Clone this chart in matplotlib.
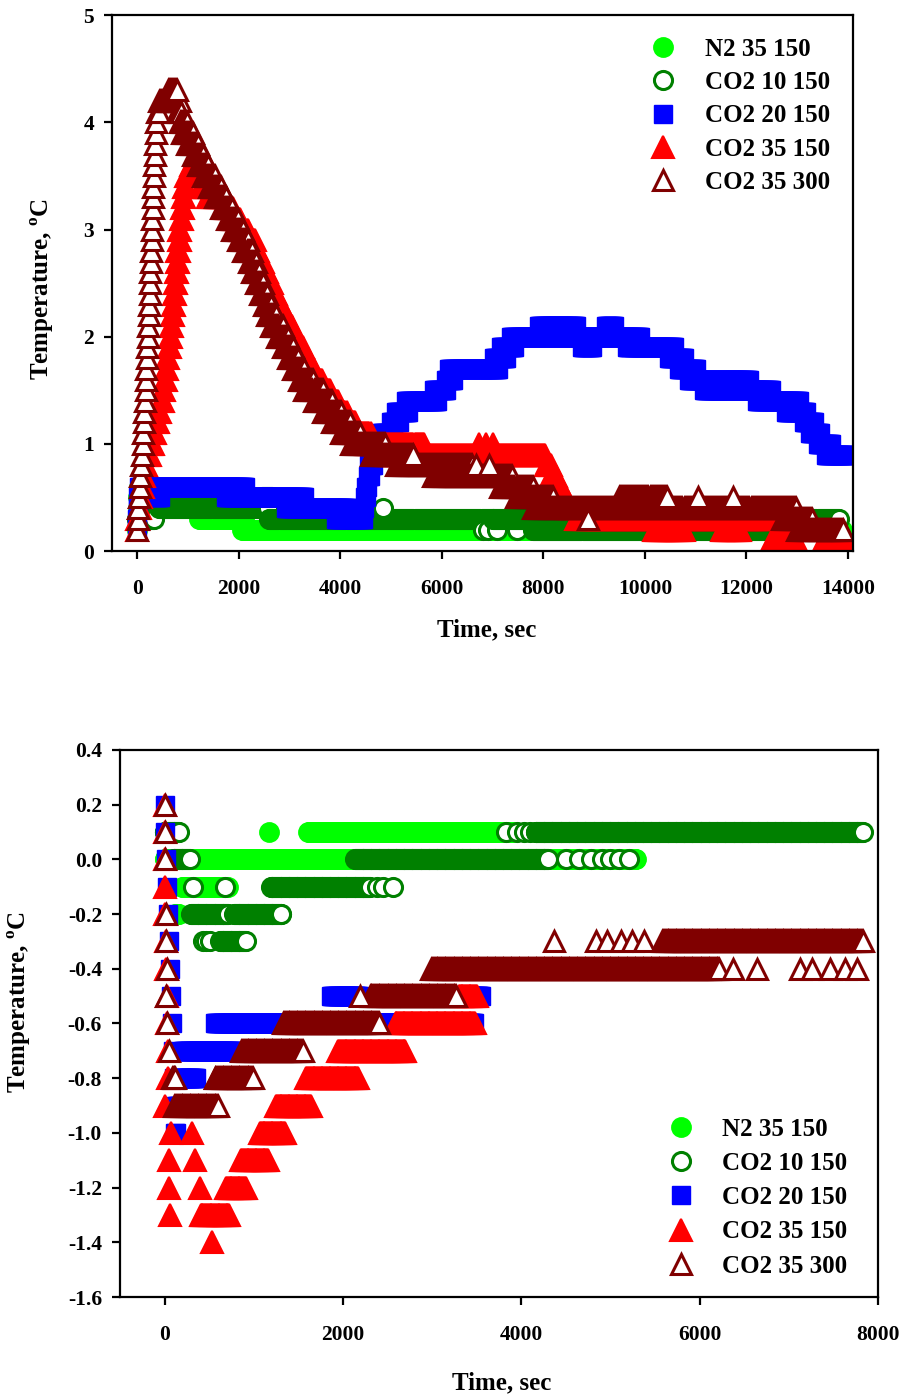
import numpy as np
import matplotlib
matplotlib.use('Agg')
import matplotlib.pyplot as plt
from matplotlib.lines import Line2D

plt.rcParams['font.family'] = ['Liberation Serif', 'DejaVu Serif']
plt.rcParams['font.weight'] = 'bold'
plt.rcParams['axes.unicode_minus'] = False
plt.rcParams['mathtext.fontset'] = 'custom'
plt.rcParams['mathtext.rm'] = 'Liberation Serif'
plt.rcParams['mathtext.bf'] = 'Liberation Serif:bold'

labels = ['N2 35 150', 'CO2 10 150', 'CO2 20 150', 'CO2 35 150', 'CO2 35 300']

# each run: (temperature, first time, last time) -- logger steps of 0.1 C
# ---------------- upper panel ----------------
top_n2 = [
    (0.2, 0, 0), (0.3, 0, 0), (0.4, 10, 10), (0.5, 20, 20), (0.6, 30, 30),
    (0.5, 40, 160), (0.4, 100, 1250), (0.3, 1220, 2100), (0.2, 2070, 13900)]

top_co2_10 = [
    (0.3, 0, 315), (0.4, 420, 2580), (0.5, 2450, 2650), (0.3, 2600, 7000),
    (0.2, 6810, 6810), (0.2, 6900, 6900), (0.2, 7090, 7090), (0.2, 7480, 7480),
    (0.2, 7790, 13800), (0.3, 7000, 13830), (0.4, 4840, 4840)]

top_co2_20 = [
    (0.2, 0, 0), (0.3, 0, 0), (0.4, 10, 10), (0.5, 20, 20), (0.6, 30, 2130),
    (0.5, 350, 450), (0.5, 1750, 3290), (0.4, 2930, 4150), (0.3, 3920, 4450),
    (0.4, 4460, 4470), (0.5, 4480, 4500), (0.6, 4510, 4530), (0.7, 4540, 4580),
    (0.8, 4570, 4650), (0.9, 4630, 4750), (1.0, 4700, 4900), (1.1, 4800, 5050),
    (1.2, 4995, 5160), (1.3, 5094, 5330), (1.4, 5290, 5920), (1.5, 5848, 6085),
    (1.6, 6078, 6216), (1.7, 6143, 7100), (1.8, 7029, 7266), (1.9, 7160, 7430),
    (2.0, 7358, 9889), (2.1, 7915, 8644), (1.9, 8760, 8970), (2.1, 9230, 9398),
    (1.9, 9655, 10580), (1.8, 10475, 10777), (1.7, 10672, 11007),
    (1.6, 10870, 12056), (1.5, 11164, 12484), (1.4, 12214, 13041),
    (1.3, 12773, 13172), (1.2, 13134, 13336), (1.1, 13250, 13450),
    (1.0, 13400, 13665), (0.9, 13560, 14000)]

top_co2_35_150 = [
    (0.2, 0, 0), (0.3, 0, 30), (0.4, 30, 60), (0.5, 60, 90), (0.6, 90, 120),
    (0.7, 120, 150), (0.8, 150, 180), (0.9, 180, 250), (1.0, 250, 315),
    (1.1, 315, 365), (1.2, 365, 415), (1.3, 415, 465), (1.4, 465, 510),
    (1.5, 510, 540), (1.6, 540, 565), (1.7, 565, 590), (1.8, 590, 620),
    (1.9, 620, 645), (2.0, 645, 670), (2.1, 670, 690), (2.2, 690, 705),
    (2.3, 705, 720), (2.4, 720, 740), (2.5, 740, 755), (2.6, 755, 775),
    (2.7, 775, 790), (2.8, 790, 810), (2.9, 810, 827), (3.0, 827, 850),
    (3.1, 850, 875), (3.2, 875, 900), (3.3, 900, 925), (3.4, 925, 960),
    (3.5, 960, 1260), (3.6, 1050, 1100), (3.4, 1250, 1550), (3.3, 1400, 1750),
    (3.2, 1750, 1890), (3.1, 1890, 2030), (3.0, 2030, 2170), (2.9, 2170, 2304),
    (2.8, 2304, 2390), (2.7, 2390, 2480), (2.6, 2480, 2570), (2.5, 2570, 2660),
    (2.4, 2660, 2750), (2.3, 2750, 2835), (2.2, 2835, 2945), (2.1, 2945, 3050),
    (2.0, 3050, 3160), (1.9, 3160, 3270), (1.8, 3270, 3380), (1.7, 3380, 3485),
    (1.6, 3485, 3640), (1.5, 3640, 3800), (1.4, 3800, 3960), (1.3, 3960, 4120),
    (1.2, 4120, 4273), (1.1, 4273, 4600), (1.0, 4500, 5650), (0.9, 4900, 8050),
    (1.0, 6730, 6730), (1.0, 6870, 6870), (1.0, 7010, 7010),
    (0.8, 8050, 8150), (0.7, 8150, 8250), (0.6, 8250, 8350), (0.5, 8350, 8450),
    (0.4, 8450, 8700), (0.3, 8650, 12480), (0.2, 10180, 10770),
    (0.2, 11520, 11890), (0.1, 12500, 12975), (0.1, 13530, 14000)]

top_co2_35_300 = [
    (0.2, 0, 0), (0.3, 10, 10), (0.4, 20, 20), (0.5, 30, 30), (0.6, 45, 45),
    (0.7, 60, 60), (0.8, 75, 75), (0.9, 95, 95), (1.0, 110, 110),
    (1.1, 120, 120), (1.2, 130, 130), (1.3, 140, 140), (1.4, 150, 150),
    (1.5, 160, 160), (1.6, 165, 165), (1.7, 175, 175), (1.8, 185, 185),
    (1.9, 195, 195), (2.0, 205, 205), (2.1, 215, 215), (2.2, 225, 225),
    (2.3, 235, 235), (2.4, 240, 240), (2.5, 250, 250), (2.6, 256, 256),
    (2.7, 265, 265), (2.8, 270, 270), (2.9, 280, 280), (3.0, 285, 285),
    (3.1, 290, 290), (3.2, 300, 300), (3.3, 305, 305), (3.4, 310, 310),
    (3.5, 320, 320), (3.6, 330, 330), (3.7, 340, 340), (3.8, 350, 350),
    (3.9, 360, 360), (4.0, 375, 375), (4.1, 390, 430), (4.2, 430, 830),
    (4.3, 600, 780),
    (4.1, 780, 870), (4.0, 830, 980), (3.9, 870, 1090), (3.8, 980, 1200),
    (3.7, 1090, 1300), (3.6, 1200, 1410), (3.5, 1300, 1530), (3.4, 1410, 1650),
    (3.3, 1530, 1760), (3.2, 1650, 1870), (3.1, 1760, 1980), (3.0, 1870, 2090),
    (2.9, 1980, 2190), (2.8, 2090, 2260), (2.7, 2190, 2340), (2.6, 2260, 2410),
    (2.5, 2340, 2490), (2.4, 2410, 2560), (2.3, 2490, 2640), (2.2, 2560, 2750),
    (2.1, 2640, 2860), (2.0, 2750, 2970), (1.9, 2860, 3070), (1.8, 2970, 3180),
    (1.7, 3070, 3290), (1.6, 3180, 3470), (1.5, 3290, 3650), (1.4, 3470, 3830),
    (1.3, 3650, 4010), (1.2, 3830, 4200), (1.1, 4010, 4400), (1.0, 4200, 4880),
    (0.9, 4600, 5435), (0.8, 5100, 6600), (0.7, 5830, 7400), (0.6, 7150, 7800),
    (0.5, 7450, 8200), (0.4, 7800, 12990), (0.5, 9490, 10430),
    (0.3, 12700, 13310), (0.2, 13000, 13900),
    (0.9, 5435, 5435), (0.8, 6670, 6670), (0.8, 6930, 6930), (0.3, 8880, 8880),
    (0.5, 11050, 11050), (0.5, 11740, 11740), (0.2, 13900, 13900)]

# ---------------- lower panel ----------------
bot_n2 = [
    (0.1, 0, 40), (0.0, 0, 5290), (-0.1, 200, 710), (-0.2, 120, 160),
    (0.1, 1170, 1170), (0.1, 1610, 3900)]

bot_co2_10 = [
    (0.1, 0, 165), (0.0, 100, 280), (-0.1, 315, 315), (-0.2, 300, 710),
    (-0.3, 430, 430), (-0.3, 470, 470), (-0.3, 505, 505), (-0.1, 675, 675),
    (-0.3, 620, 915), (-0.2, 780, 1310), (-0.1, 1190, 2300), (-0.1, 2380, 2380),
    (-0.1, 2450, 2450), (-0.1, 2565, 2565), (0.0, 2140, 4300),
    (0.0, 4500, 4500), (0.0, 4650, 4650), (0.0, 4780, 4780), (0.0, 4900, 4900),
    (0.0, 5000, 5000), (0.0, 5100, 5100), (0.0, 5210, 5210),
    (0.1, 3830, 3830), (0.1, 3950, 3950), (0.1, 4030, 4030), (0.1, 4100, 4100),
    (0.1, 4160, 7830)]

bot_co2_20 = [
    (0.2, 0, 0), (0.1, 10, 10), (0.0, 20, 20), (-0.1, 30, 30), (-0.2, 40, 40),
    (-0.3, 50, 50), (-0.4, 60, 60), (-0.5, 70, 70), (-0.6, 80, 80),
    (-0.7, 90, 90), (-0.8, 100, 100), (-0.9, 110, 110), (-1.0, 120, 130),
    (-0.9, 140, 170), (-0.8, 170, 350), (-0.7, 210, 780), (-0.6, 570, 3470),
    (-0.5, 1870, 2180), (-0.5, 2530, 3550)]

bot_co2_35_150 = [
    (0.2, 0, 0), (0.1, 0, 0), (0.0, 0, 0), (-0.1, 5, 5), (-0.2, 10, 10),
    (-0.3, 15, 15), (-0.4, 20, 20), (-0.5, 25, 25), (-0.6, 30, 30),
    (-0.7, 35, 35), (-0.8, 40, 40), (-0.9, 0, 0), (-1.2, 50, 50),
    (-1.1, 55, 55), (-1.3, 60, 60), (-1.0, 70, 70), (-1.0, 305, 305),
    (-1.1, 340, 340), (-1.2, 395, 395), (-1.4, 530, 530), (-1.3, 405, 730),
    (-1.2, 690, 910), (-1.1, 860, 1160), (-1.0, 1070, 1350), (-0.9, 1250, 1640),
    (-0.8, 1590, 2170), (-0.7, 1950, 2700), (-0.6, 2590, 3480),
    (-0.5, 3300, 3500)]

bot_co2_35_300 = [
    (0.2, 0, 0), (0.1, 0, 0), (0.0, 10, 10), (-0.2, 15, 15), (-0.3, 20, 20),
    (-0.4, 25, 25), (-0.5, 20, 20), (-0.6, 30, 30), (-0.7, 55, 55),
    (-0.8, 80, 120), (-0.9, 110, 600), (-0.8, 560, 990), (-0.7, 860, 1550),
    (-0.6, 1330, 2400), (-0.5, 2300, 3270), (-0.5, 2190, 2190),
    (-0.4, 2990, 6220), (-0.3, 5580, 7830),
    (-0.4, 6370, 6370), (-0.4, 6640, 6640), (-0.4, 7120, 7120),
    (-0.4, 7260, 7260), (-0.4, 7460, 7460), (-0.4, 7630, 7630),
    (-0.4, 7760, 7760),
    (-0.3, 4365, 4365), (-0.3, 4840, 4840), (-0.3, 4960, 4960),
    (-0.3, 5120, 5120), (-0.3, 5240, 5240), (-0.3, 5380, 5380)]

top_series = [top_n2, top_co2_10, top_co2_20, top_co2_35_150, top_co2_35_300]
bot_series = [bot_n2, bot_co2_10, bot_co2_20, bot_co2_35_150, bot_co2_35_300]

styles = [
    dict(marker='o', ms=13.5, mfc='#00ff00', mec='#00ff00', mew=1.5),
    dict(marker='o', ms=13, mfc='white', mec='#008000', mew=2.2),
    dict(marker='s', ms=13.5, mfc='#0000ff', mec='#0000ff', mew=1.0),
    dict(marker='^', ms=15.5, mfc='#ff0000', mec='#ff0000', mew=1.5),
    dict(marker='^', ms=14.5, mfc='white', mec='#800000', mew=2.2),
]


def expand(runs, step):
    t, v = [], []
    for val, t0, t1 in runs:
        ts = np.arange(t0, t1 + step / 2, step)
        t.extend(ts)
        v.extend([val] * len(ts))
    return np.array(t), np.array(v)


fig = plt.figure(figsize=(9.07, 13.96), dpi=100)
ax1 = fig.add_axes([0.1235, 0.6053, 0.817, 0.3837])
ax2 = fig.add_axes([0.1323, 0.0709, 0.8357, 0.3919])

for ax, series, step in [(ax1, top_series, 20), (ax2, bot_series, 10)]:
    for runs, st in zip(series, styles):
        t, v = expand(runs, step)
        ax.plot(t, v, ls='none', **st)

ax1.set_xlim(-500, 14100)
ax1.set_ylim(0, 5)
ax1.set_xticks(np.arange(0, 14001, 2000))
ax1.set_yticks(np.arange(0, 6, 1))

ax2.set_xlim(-500, 8000)
ax2.set_ylim(-1.6, 0.4)
ax2.set_xticks(np.arange(0, 8001, 2000))
yt = np.round(np.arange(-1.6, 0.41, 0.2), 1)
ax2.set_yticks(yt)
ax2.set_yticklabels(['%.1f' % (y if abs(y) > 1e-9 else 0.0) for y in yt])

for ax in (ax1, ax2):
    for sp in ax.spines.values():
        sp.set_linewidth(1.6)
    ax.tick_params(direction='out', length=6, width=1.6, labelsize=15.5,
                   top=False, right=False)
    ax.tick_params(axis='x', pad=14)
    ax.tick_params(axis='y', pad=7)
    for lab in ax.get_xticklabels() + ax.get_yticklabels():
        lab.set_fontweight('bold')
    ax.set_xlabel('Time, sec', fontsize=18, fontweight='bold')
    ax.set_ylabel(r'Temperature, $^{\rm o}$C', fontsize=18, fontweight='bold')

ax1.xaxis.set_label_coords(0.506, -0.125)
ax1.yaxis.set_label_coords(-0.076, 0.49)
ax2.xaxis.set_label_coords(0.504, -0.135)
ax2.yaxis.set_label_coords(-0.115, 0.54)

handles = [Line2D([], [], ls='none', **st) for st in styles]
leg_kw = dict(frameon=False, fontsize=18, handlelength=1.0, handletextpad=1.16,
              borderpad=0, borderaxespad=0, numpoints=1, loc='upper left')
ax1.legend(handles, labels, bbox_to_anchor=(0.727, 0.958), labelspacing=0.41,
           **leg_kw)
ax2.legend(handles, labels, bbox_to_anchor=(0.723, 0.328), labelspacing=0.45,
           **leg_kw)

fig.savefig('out.png', dpi=100)
